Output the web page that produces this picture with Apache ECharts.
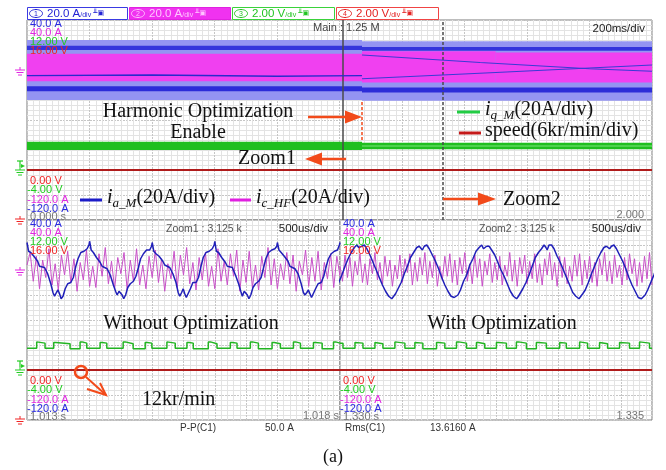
<!DOCTYPE html>
<html>
<head>
<meta charset="utf-8">
<script src="https://cdn.jsdelivr.net/npm/echarts@6/dist/echarts.min.js"></script>
<style>
  html, body { margin: 0; padding: 0; background: #ffffff; }
  #c { width: 666px; height: 470px; }
</style>
</head>
<body>
<div id="c"></div>
<script>
// ---------------- channel settings ----------------
const channelScales = ['20.0 A', '20.0 A', '2.00 V', '2.00 V'];
const topLabels = ['40.0 A', '40.0 A', '12.00 V', '16.00 V'];
const bottomLabels = ['0.00 V', '-4.00 V', '-120.0 A', '-120.0 A'];

// ---------------- main record (0 .. 2 s) ----------------
const mainTimeRange = [0, 2];           // s
const zoom1Start = 1.013;               // s
const zoom2Start = 1.330;               // s
const optimizationOn = 1.072;           // s
// envelopes of the phase current: [t0, t1, low A, high A]
const mainIaOuter = [[0, 1.072, -24, 24], [1.072, 2, -24.5, 23]];
const mainIaEdgeHigh = [[0, 1.072, 16, 19.5], [1.072, 2, 15.5, 18.5]];
const mainIaEdgeLow = [[0, 1.072, -17, -13], [1.072, 2, -18, -14]];
const mainIcBand = [[0, 1.072, -9, 13], [1.072, 1.5, -10, 15], [1.5, 2, -10, 14]];
const mainIaStreakA = [[0, -4.5], [0.4, -4], [0.8, -5], [1.072, -4.5]];
const mainIaStreakB = [[1.072, 12], [1.45, 6], [1.8, 1], [2, -1]];
const mainIaStreakC = [[1.072, -7], [1.5, -2], [2, 4]];
const mainIqBand = [[0, 1.072, 16, 22.6], [1.072, 2, 16.6, 21.8]];
const mainIqCentre = [[1.072, 19.2], [2, 19.2]];
const mainSpeed = [[0, 12], [2, 12]];   // kr/min

// ---------------- zoom windows (time in us from window start) ----------------
const zoomSpan = 5000;
// Zoom1: phase current, one row per electrical period
const zoom1PeriodStarts = [0, 1000, 2000, 3000, 4000];
const zoom1Offsets = [0, 25, 60, 110, 170, 200, 280, 330, 380, 415, 440, 470, 495, 520, 545, 575, 610, 650, 700, 740, 780, 815, 860, 910, 960, 990];
const zoom1Ia = [
  [22, 15, 14, 11, 7, 3, 2, -3, -11, -18, -21, -18, -16, -19, -23, -21, -15, -11, -10, -6, 3, 9, 14, 15, 17, 20],
  [23, 16, 14, 10, 6, 3, 1, -4, -12, -17, -20, -17, -16, -20, -23, -20, -14, -11, -9, -5, 2, 9, 13, 16, 16, 19],
  [22, 15, 13, 11, 7, 4, 2, -3, -10, -18, -21, -18, -15, -19, -22, -21, -15, -10, -10, -6, 3, 10, 14, 15, 17, 20],
  [23, 15, 14, 10, 6, 3, 2, -4, -11, -17, -21, -17, -16, -20, -23, -20, -14, -11, -9, -6, 2, 9, 14, 16, 17, 19],
  [22, 16, 14, 11, 7, 3, 1, -3, -11, -18, -20, -18, -16, -19, -22, -21, -15, -11, -10, -5, 3, 9, 13, 15, 16, 20]
];
const zoom1IaEnd = [5000, 22];
// Zoom1: high-frequency injected current, sampled every 50 us
const zoom1IcStep = 50;
const zoom1Ic = [
  4, 14, -9, 11, -15, 8, -6, 17, -12, 5,
  -16, 12, -4, 15, -10, 9, -17, 6, -8, 16,
  -13, 3, -14, 13, -5, 18, -11, 7, -15, 10,
  -3, 14, -16, 8, -9, 17, -12, 4, -15, 11,
  -6, 16, -10, 9, -17, 5, -7, 15, -14, 12,
  -4, 18, -11, 6, -16, 10, -8, 14, -13, 3,
  -15, 17, -9, 7, -12, 13, -5, 16, -17, 8,
  -10, 15, -14, 4, -16, 11, -6, 18, -12, 9,
  -15, 5, -8, 14, -11, 12, -17, 7, -4, 16,
  -13, 10, -9, 15, -16, 6, -7, 13, -14, 11,
  -5
];
// Zoom1: q-axis current level changes [t, A]
const zoom1Iq = [[0, 17.5], [155, 22.5], [185, 21.5], [288, 17.5], [427, 22], [460, 21], [688, 17], [848, 22.5], [880, 21.5], [955, 17.5],
  [1168, 22], [1200, 21.5], [1275, 17.5], [1536, 22.5], [1570, 21], [1696, 17], [1888, 22], [1920, 21.5], [1995, 17.5],
  [2235, 22.5], [2265, 21.5], [2368, 17.5], [2555, 22], [2590, 21.5], [2656, 17], [2896, 22.5], [2930, 21], [3035, 17.5],
  [3248, 22], [3280, 21.5], [3355, 17.5], [3568, 22.5], [3600, 21.5], [3696, 17], [3915, 22], [3950, 21], [4048, 17.5],
  [4256, 22.5], [4290, 21.5], [4368, 17.5], [4576, 22], [4610, 21.5], [4715, 17], [4896, 22.5], [4930, 21.5], [5000, 21.5]];
const zoom1Speed = [[0, 12], [5000, 12]];

// Zoom2: phase current, one row per period, rows start at a current minimum
const zoom2PeriodStarts = [-170, 830, 1830, 2830, 3830, 4830];
const zoom2Offsets = [0, 30, 60, 100, 150, 200, 250, 300, 350, 400, 440, 470, 490, 520, 560, 600, 650, 700, 750, 800, 850, 900, 950];
const zoom2Ia = [
  [-23, -22, -20, -16, -10, -4, 3, 9, 14, 18, 20, 18, 17, 19, 20, 17, 12, 6, 0, -6, -12, -17, -21],
  [-23, -22, -19, -15, -10, -3, 3, 10, 14, 18, 19, 18, 16, 19, 20, 17, 12, 7, 1, -6, -12, -17, -21],
  [-22, -22, -20, -16, -9, -4, 4, 9, 15, 18, 20, 17, 17, 19, 19, 16, 12, 6, 0, -5, -11, -17, -21],
  [-23, -21, -20, -15, -10, -4, 3, 10, 14, 17, 20, 18, 16, 20, 20, 17, 11, 6, 0, -6, -12, -18, -21],
  [-23, -22, -19, -16, -10, -3, 3, 9, 14, 18, 19, 18, 17, 19, 20, 17, 12, 7, 1, -6, -12, -17, -22],
  [-23, -22, -20, -16, -10, -4, 3, 9, 14, 18, 20, 18, 17, 19, 20, 17, 12, 6, 0, -6, -12, -17, -21]
];
// Zoom2: high-frequency injected current, sampled every 40 us
const zoom2IcStep = 40;
const zoom2Ic = [
  3, -9, 12, -6, 10, -13, 7, -4, 13, -10,
  5, -12, 9, -3, 14, -8, 6, -11, 11, -5,
  8, -13, 4, -7, 12, -10, 9, -2, 13, -12,
  6, -9, 10, -4, 14, -11, 7, -6, 12, -13,
  3, -8, 11, -5, 13, -10, 8, -12, 10, -3,
  14, -9, 5, -11, 12, -6, 9, -13, 7, -4,
  13, -10, 6, -8, 11, -12, 4, -5, 14, -9,
  8, -13, 10, -3, 12, -11, 7, -7, 13, -10,
  5, -12, 9, -4, 14, -8, 6, -13, 11, -6,
  10, -11, 3, -9, 12, -5, 13, -12, 8, -7,
  11, -10, 6, -13, 9, -4, 14, -9, 7, -11,
  12, -6, 4, -12, 10, -8, 13, -3, 9, -13,
  6, -10, 11, -7, 14, -12
];
const zoom2Iq = [[0, 21.5], [48, 17.5], [240, 22], [270, 21.5], [368, 17.5], [560, 22], [590, 21], [688, 17.5], [880, 22.5], [910, 21.5], [1040, 17.5],
  [1200, 22], [1230, 21.5], [1328, 17], [1547, 22], [1580, 21.5], [1680, 17.5], [1867, 22.5], [1900, 21.5], [2027, 17.5],
  [2187, 22], [2220, 21], [2320, 17.5], [2507, 22], [2540, 21.5], [2667, 17.5], [2827, 22.5], [2860, 21.5], [2987, 17],
  [3147, 22], [3180, 21.5], [3307, 17.5], [3520, 22], [3550, 21.5], [3627, 17.5], [3840, 22.5], [3870, 21.5], [3968, 17.5],
  [4160, 22], [4190, 21], [4288, 17.5], [4480, 22], [4510, 21.5], [4640, 17.5], [4800, 22.5], [4830, 21.5], [4960, 17.5], [5000, 17.5]];
const zoom2Speed = [[0, 12], [5000, 12]];

// ---------------- helpers ----------------
function periodic(starts, offsets, rows, tail) {
  const out = [];
  rows.forEach((row, k) => row.forEach((v, j) => out.push([starts[k] + offsets[j], v])));
  if (tail) out.push(tail);
  return out;
}
function sampled(step, values) { return values.map((v, i) => [i * step, v]); }

const COL = {
  blue: '#1f1fb8', blueLbl: '#2a2ae0', mag: '#e028e0', magTrace: '#c850c8',
  green: '#22b422', greenLbl: '#22cc22', red: '#b01c1c', redLbl: '#f02424',
  grey: '#777777', arrow: '#f24a1a'
};
const SCOPE_FONT = 'Liberation Sans, Arial, sans-serif';
const SERIF = 'Liberation Serif, Times New Roman, serif';

function xAxisFor(gi, max, interval, minorN) {
  return {
    type: 'value', gridIndex: gi, min: 0, max: max, interval: interval,
    axisLine: { show: false }, axisTick: { show: false }, axisLabel: { show: false },
    splitLine: { show: true, lineStyle: { color: '#c6c6c6', width: 1, type: [2, 1] } },
    minorTick: { show: false, splitNumber: minorN },
    minorSplitLine: { show: true, lineStyle: { color: '#e3e3e3', width: 1 } }
  };
}
function yAxesFor(gi) {
  return [
    { type: 'value', gridIndex: gi, min: -120, max: 40, interval: 20,
      axisLine: { show: false }, axisTick: { show: false }, axisLabel: { show: false },
      splitLine: { show: true, lineStyle: { color: '#c6c6c6', width: 1, type: [2, 1] } },
      minorTick: { show: false, splitNumber: 5 },
      minorSplitLine: { show: true, lineStyle: { color: '#e3e3e3', width: 1 } } },
    { type: 'value', gridIndex: gi, min: -40, max: 120, show: false, splitLine: { show: false } },
    { type: 'value', gridIndex: gi, min: 0, max: 48, show: false, splitLine: { show: false } }
  ];
}
function band(data, xi, yi, color, z) {
  return {
    type: 'custom', xAxisIndex: xi, yAxisIndex: yi, z: z, silent: true, clip: true,
    encode: { x: [0, 1], y: [2, 3] },
    renderItem: function (params, api) {
      const a = api.coord([api.value(0), api.value(3)]);
      const b = api.coord([api.value(1), api.value(2)]);
      return { type: 'rect', shape: { x: a[0], y: a[1], width: b[0] - a[0], height: b[1] - a[1] },
        style: { fill: color } };
    },
    data: data
  };
}
function trace(data, xi, yi, color, width, z, extra) {
  return Object.assign({
    type: 'line', xAxisIndex: xi, yAxisIndex: yi, data: data, showSymbol: false, symbol: 'none',
    silent: true, z: z, clip: true, lineStyle: { color: color, width: width }
  }, extra || {});
}

const chart = echarts.init(document.getElementById('c'));

const series = [
  // main record
  band(mainIaOuter, 0, 0, '#9494f2', 2),
  band(mainIaEdgeHigh, 0, 0, '#3434dc', 3),
  band(mainIaEdgeLow, 0, 0, '#2c2cd8', 3),
  band(mainIcBand, 0, 0, '#f040f0', 4),
  trace(mainIaStreakA, 0, 0, '#2a2acc', 1.5, 5),
  trace(mainIaStreakB, 0, 0, '#3a3ad4', 1.2, 5),
  trace(mainIaStreakC, 0, 0, '#3a3ad4', 1.2, 5, {
    markLine: {
      silent: true, symbol: 'none', label: { show: false },
      data: [[
        { coord: [optimizationOn, -25.5], lineStyle: { color: COL.arrow, width: 1.5, type: [3, 2] } },
        { coord: [optimizationOn, -56] }
      ]]
    }
  }),
  band(mainIqBand, 0, 1, '#1fbf1f', 4),
  trace(mainIqCentre, 0, 1, '#7ee37e', 1, 5),
  trace(mainSpeed, 0, 2, COL.red, 2, 5, {
    markLine: {
      silent: true, symbol: 'none', label: { show: false },
      data: [
        { xAxis: zoom1Start, lineStyle: { color: '#4a4a4a', width: 1.5, type: 'solid' } },
        { xAxis: zoom2Start, lineStyle: { color: '#4a4a4a', width: 1.5, type: [3, 2] } }
      ]
    }
  }),
  // zoom 1
  trace(sampled(zoom1IcStep, zoom1Ic), 1, 3, COL.magTrace, 1, 4),
  trace(periodic(zoom1PeriodStarts, zoom1Offsets, zoom1Ia, zoom1IaEnd), 1, 3, COL.blue, 1.5, 5),
  trace(zoom1Iq, 1, 4, COL.green, 1.5, 5, { step: 'end' }),
  trace(zoom1Speed, 1, 5, COL.red, 2, 5),
  // zoom 2
  trace(sampled(zoom2IcStep, zoom2Ic), 2, 6, COL.magTrace, 1, 4),
  trace(periodic(zoom2PeriodStarts, zoom2Offsets, zoom2Ia), 2, 6, COL.blue, 1.5, 5),
  trace(zoom2Iq, 2, 7, COL.green, 1.5, 5, { step: 'end' }),
  trace(zoom2Speed, 2, 8, COL.red, 2, 5)
];

const gridStyle = { show: true, borderColor: '#7a7a7a', borderWidth: 1, backgroundColor: '#ffffff' };

chart.setOption({
  animation: false,
  backgroundColor: '#ffffff',
  grid: [
    Object.assign({ left: 27, top: 20, width: 625, height: 200 }, gridStyle),
    Object.assign({ left: 27, top: 220, width: 313, height: 200 }, gridStyle),
    Object.assign({ left: 340, top: 220, width: 312, height: 200 }, gridStyle)
  ],
  xAxis: [
    xAxisFor(0, mainTimeRange[1], 0.2, 10),
    xAxisFor(1, zoomSpan, 500, 5),
    xAxisFor(2, zoomSpan, 500, 5)
  ],
  yAxis: [].concat(yAxesFor(0), yAxesFor(1), yAxesFor(2)),
  series: series
});

// ---------------- text, markers and annotations ----------------
const G = [];
function txt(x, y, s, opt) {
  opt = opt || {};
  G.push({
    type: 'text', x: x, y: y, z: 100, silent: true,
    style: {
      text: s, fill: opt.color || '#222', align: opt.align || 'left', verticalAlign: opt.v || 'middle',
      font: (opt.style || '') + ' ' + (opt.weight || '') + ' ' + (opt.size || 11) + 'px ' + (opt.family || SCOPE_FONT),
      rich: opt.rich
    }
  });
}
function line(x1, y1, x2, y2, color, w, dash) {
  G.push({ type: 'line', z: 100, silent: true, shape: { x1: x1, y1: y1, x2: x2, y2: y2 },
    style: { stroke: color, lineWidth: w, lineDash: dash || null } });
}
function poly(points, color) {
  G.push({ type: 'polygon', z: 100, silent: true, shape: { points: points }, style: { fill: color } });
}
function groundMark(y, color, trig) {
  const x = 20;
  line(x, y - 3, x, y, color, 1);
  line(x - 5, y, x + 5, y, color, 1);
  line(x - 3.5, y + 2.5, x + 3.5, y + 2.5, color, 1);
  line(x - 2, y + 5, x + 2, y + 5, color, 1);
  if (trig) {
    line(x - 3, y - 9, x + 3, y - 9, color, 1.2);
    line(x, y - 9, x, y - 3, color, 1.2);
    poly([[x + 1, y - 6], [x + 5, y - 4], [x + 1, y - 2]], color);
  }
}

// channel header boxes
const headerStyles = [
  { x: 27, w: 101, border: '#3a3ae2', fill: '#ffffff', text: '#2424d4' },
  { x: 129, w: 102, border: '#e022e0', fill: '#f032f0', text: '#ffc4ff' },
  { x: 232, w: 103, border: '#3ad23a', fill: '#ffffff', text: '#22c422' },
  { x: 336, w: 103, border: '#f04444', fill: '#ffffff', text: '#e42222' }
];
headerStyles.forEach((h, i) => {
  G.push({ type: 'rect', z: 100, silent: true, shape: { x: h.x + 0.5, y: 7.5, width: h.w - 1, height: 12 },
    style: { fill: h.fill, stroke: h.border, lineWidth: 1 } });
  G.push({ type: 'ellipse', z: 101, silent: true, shape: { cx: h.x + 9, cy: 13.5, rx: 6.5, ry: 4 },
    style: { fill: 'none', stroke: h.text, lineWidth: 1 } });
  txt(h.x + 9, 13.8, String(i + 1), { color: h.text, size: 7, align: 'center' });
  txt(h.x + 20, 13.5, '{v|' + channelScales[i] + '}{d|/div}{k| ╨▣}', {
    color: h.text,
    rich: {
      v: { fontSize: 11.5, fontFamily: SCOPE_FONT, fill: h.text },
      d: { fontSize: 7, fontFamily: SCOPE_FONT, fill: h.text, padding: [3, 0, 0, 0] },
      k: { fontSize: 7, fontFamily: 'DejaVu Sans', fill: h.text }
    }
  });
});

// channel range labels
const lblColors = [COL.blueLbl, COL.mag, COL.greenLbl, COL.redLbl];
function channelLabels(x, yTop, yBot, timeText) {
  topLabels.forEach((s, i) => txt(x, yTop + i * 9, s, { color: lblColors[i], size: 11 }));
  const botColors = [COL.redLbl, COL.greenLbl, COL.mag, COL.blueLbl];
  bottomLabels.forEach((s, i) => txt(s.charAt(0) === '-' ? x - 3 : x, yBot + i * 9.3, s, { color: botColors[i], size: 11 }));
  txt(x, yBot + 36, timeText, { color: COL.grey, size: 11 });
}
channelLabels(30, 24, 181, '0.000 s');
channelLabels(30, 224, 381, '1.013 s');
channelLabels(343, 224, 381, '1.330 s');
txt(644, 215, '2.000', { color: COL.grey, size: 11, align: 'right' });
txt(339, 416, '1.018 s', { color: COL.grey, size: 11, align: 'right' });
txt(644, 416, '1.335', { color: COL.grey, size: 11, align: 'right' });
txt(313, 28, 'Main : 1.25 M', { color: '#444', size: 11 });
txt(645, 29, '200ms/div', { color: '#222', size: 11.5, align: 'right' });
txt(166, 229, 'Zoom1 : 3.125 k', { color: '#555', size: 10.5 });
txt(328, 229, '500us/div', { color: '#222', size: 11.5, align: 'right' });
txt(479, 229, 'Zoom2 : 3.125 k', { color: '#555', size: 10.5 });
txt(641, 229, '500us/div', { color: '#222', size: 11.5, align: 'right' });

// readouts below the screen
txt(180, 428, 'P-P(C1)', { color: '#333', size: 10 });
txt(265, 428, '50.0 A', { color: '#333', size: 10 });
txt(345, 428, 'Rms(C1)', { color: '#333', size: 10 });
txt(430, 428, '13.6160 A', { color: '#333', size: 10 });

// figure annotations
const ann = { family: SERIF, size: 20, color: '#111' };
txt(198, 112, 'Harmonic Optimization', Object.assign({ align: 'center' }, ann));
txt(198, 133, 'Enable', Object.assign({ align: 'center' }, ann));
line(308, 117, 347, 117, COL.arrow, 2.5);
poly([[345, 110.5], [362, 117], [345, 123.5]], COL.arrow);

txt(267, 159, 'Zoom1', Object.assign({ align: 'center' }, ann));
line(320, 159, 346, 159, COL.arrow, 2.5);
poly([[322, 152.5], [305, 159], [322, 165.5]], COL.arrow);

line(443, 199, 480, 199, COL.arrow, 2.5);
poly([[478, 192.5], [496, 199], [478, 205.5]], COL.arrow);
txt(503, 200, 'Zoom2', ann);

txt(191, 324, 'Without Optimization', Object.assign({ align: 'center' }, ann));
txt(502, 324, 'With Optimization', Object.assign({ align: 'center' }, ann));
txt(142, 400, '12kr/min', ann);

G.push({ type: 'circle', z: 100, silent: true, shape: { cx: 81, cy: 372, r: 6 },
  style: { fill: 'none', stroke: COL.arrow, lineWidth: 2.5 } });
line(86, 377, 106, 395, COL.arrow, 2);
G.push({ type: 'polyline', z: 100, silent: true, shape: { points: [[87, 389], [106, 395], [100, 383]] },
  style: { stroke: COL.arrow, lineWidth: 2, fill: 'none' } });

// legends with subscripts
function legendText(x, y, sub) {
  txt(x, y, '{i|i}{s|' + sub + '}{n|(20A/div)}{p| }', {
    color: '#111',
    rich: {
      i: { fontFamily: SERIF, fontStyle: 'italic', fontSize: 20, lineHeight: 22, verticalAlign: 'top', fill: '#111' },
      s: { fontFamily: SERIF, fontStyle: 'italic', fontSize: 13, lineHeight: 13, verticalAlign: 'bottom', fill: '#111' },
      n: { fontFamily: SERIF, fontSize: 20, lineHeight: 22, verticalAlign: 'top', fill: '#111' },
      p: { fontSize: 2, lineHeight: 23, verticalAlign: 'top' }
    }
  });
}
line(80, 200, 102, 200, '#1c1cc8', 3);
legendText(107, 199, 'a_M');
line(230, 200, 251, 200, '#e020e0', 3);
legendText(256, 199, 'c_HF');
line(457, 112, 480, 112, '#22cc44', 3);
legendText(485, 111, 'q_M');
line(459, 133, 481, 133, '#c41a1a', 3);
txt(485, 131, 'speed(6kr/min/div)', ann);

txt(333, 457, '(a)', { family: SERIF, size: 18, color: '#111', align: 'center' });

// ground / trigger markers at each channel's zero level
function zeroY(yAxisIndex) { return chart.convertToPixel({ yAxisIndex: yAxisIndex }, 0); }
groundMark(zeroY(0), COL.mag, false);
groundMark(zeroY(1), COL.greenLbl, true);
groundMark(zeroY(2) - 1, COL.redLbl, false);
groundMark(zeroY(3), COL.mag, false);
groundMark(zeroY(4), COL.greenLbl, true);
groundMark(zeroY(5) - 1, COL.redLbl, false);

chart.setOption({ graphic: { elements: G } });
</script>
</body>
</html>
